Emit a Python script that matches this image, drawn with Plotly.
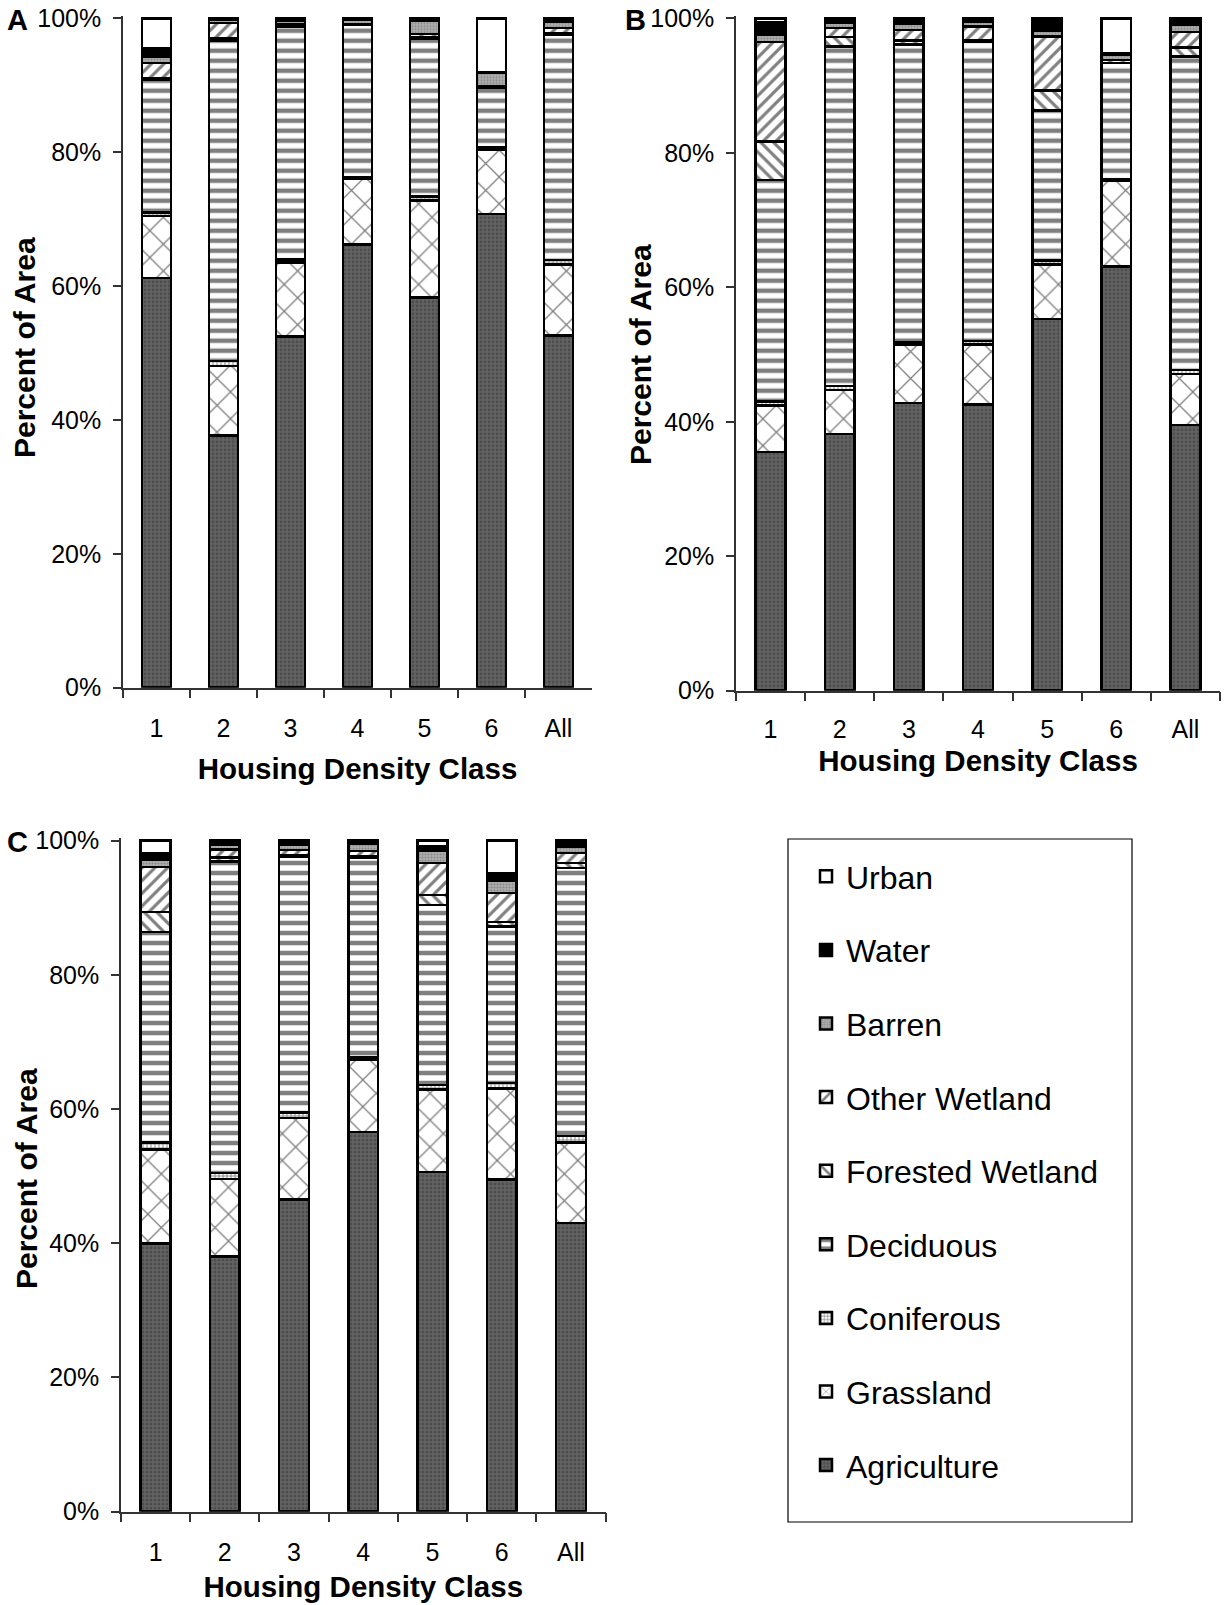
import plotly.graph_objects as go

# Housing density classes on the x axis
classes = ["1", "2", "3", "4", "5", "6", "All"]

# Land-cover series, stacked bottom to top (percent of area)
land_covers = ["Agriculture", "Grassland", "Coniferous", "Deciduous",
               "Forested Wetland", "Other Wetland", "Barren", "Water", "Urban"]

# Panel A
agriculture_a = [61.2, 37.7, 52.5, 66.2, 58.3, 70.8, 52.6]
grassland_a = [9.3, 10.4, 11.0, 9.9, 14.5, 9.6, 10.6]
coniferous_a = [0.5, 0.7, 0.5, 0.2, 0.6, 0.3, 0.7]
deciduous_a = [19.9, 47.8, 34.7, 22.7, 23.6, 9.0, 33.6]
forested_wetland_a = [0.2, 0.4, 0.2, 0.0, 0.2, 0.0, 0.3]
other_wetland_a = [2.2, 2.3, 0.2, 0.1, 0.5, 0.2, 0.8]
barren_a = [0.9, 0.5, 0.5, 0.7, 1.9, 2.0, 0.9]
water_a = [1.4, 0.2, 0.4, 0.2, 0.4, 0.1, 0.3]
urban_a = [4.4, 0.0, 0.0, 0.0, 0.0, 8.0, 0.2]

# Panel B
agriculture_b = [35.5, 38.2, 42.8, 42.6, 55.3, 63.1, 39.5]
grassland_b = [6.9, 6.5, 8.6, 8.9, 8.1, 12.8, 7.6]
coniferous_b = [0.6, 0.6, 0.4, 0.5, 0.6, 0.2, 0.6]
deciduous_b = [33.0, 50.5, 44.3, 44.6, 22.3, 17.3, 46.6]
forested_wetland_b = [5.7, 1.4, 0.6, 0.2, 3.0, 0.0, 1.4]
other_wetland_b = [14.8, 1.4, 1.6, 2.0, 8.0, 0.4, 2.3]
barren_b = [1.1, 0.8, 0.9, 0.7, 0.9, 0.8, 1.0]
water_b = [1.9, 0.4, 0.6, 0.4, 1.4, 0.2, 0.7]
urban_b = [0.5, 0.2, 0.2, 0.1, 0.4, 5.2, 0.3]

# Panel C
agriculture_c = [40.0, 38.0, 46.5, 56.6, 50.6, 49.5, 43.0]
grassland_c = [14.0, 11.6, 12.2, 10.8, 12.3, 13.6, 12.0]
coniferous_c = [1.0, 0.9, 0.8, 0.4, 0.7, 0.8, 1.0]
deciduous_c = [31.4, 46.4, 38.1, 29.6, 26.8, 23.3, 39.9]
forested_wetland_c = [3.0, 0.6, 0.3, 0.3, 1.5, 0.7, 0.8]
other_wetland_c = [6.7, 1.2, 0.7, 0.8, 4.8, 4.3, 1.5]
barren_c = [1.0, 0.7, 0.8, 1.0, 1.8, 1.9, 0.9]
water_c = [1.0, 0.4, 0.4, 0.3, 0.6, 1.0, 0.5]
urban_c = [1.9, 0.2, 0.2, 0.2, 0.9, 4.9, 0.4]

y_ticks = [0, 20, 40, 60, 80, 100]
y_tick_labels = ["0%", "20%", "40%", "60%", "80%", "100%"]

panels = [
    ("A", "", [agriculture_a, grassland_a, coniferous_a, deciduous_a, forested_wetland_a,
               other_wetland_a, barren_a, water_a, urban_a]),
    ("B", "2", [agriculture_b, grassland_b, coniferous_b, deciduous_b, forested_wetland_b,
                other_wetland_b, barren_b, water_b, urban_b]),
    ("C", "3", [agriculture_c, grassland_c, coniferous_c, deciduous_c, forested_wetland_c,
                other_wetland_c, barren_c, water_c, urban_c]),
]

FONT = "Arial, 'Liberation Sans', sans-serif"
W, H = 1224, 1605


def fx(px):
    return px / W


def fy(py):
    return 1 - py / H


# Fill styles in the manner of a monochrome print
fills = {
    "Agriculture": dict(shape=".", fgcolor="#333333", bgcolor="#646464", size=4, solidity=0.45),
    "Grassland": dict(shape="x", fgcolor="#000000", bgcolor="#ffffff", size=19, solidity=0.13),
    "Coniferous": dict(shape="+", fgcolor="#000000", bgcolor="#ffffff", size=4, solidity=0.4),
    "Deciduous": dict(shape="-", fgcolor="#000000", bgcolor="#ffffff", size=10, solidity=0.45),
    "Forested Wetland": dict(shape="\\", fgcolor="#000000", bgcolor="#ffffff", size=9, solidity=0.35),
    "Other Wetland": dict(shape="/", fgcolor="#000000", bgcolor="#ffffff", size=9, solidity=0.35),
    "Barren": dict(shape=".", fgcolor="#606060", bgcolor="#b0b0b0", size=3, solidity=0.4),
    "Water": dict(shape="", fgcolor="#000000", bgcolor="#000000", size=6, solidity=0.5),
    "Urban": dict(shape="", fgcolor="#ffffff", bgcolor="#ffffff", size=6, solidity=0.5),
}
base_colors = {
    "Agriculture": "#646464", "Grassland": "#ffffff", "Coniferous": "#ffffff",
    "Deciduous": "#ffffff", "Forested Wetland": "#ffffff", "Other Wetland": "#ffffff",
    "Barren": "#b0b0b0", "Water": "#000000", "Urban": "#ffffff",
}

fig = go.Figure()

n_covers = len(land_covers)
for letter, suffix, series in panels:
    for i, (name, values) in enumerate(zip(land_covers, series)):
        fig.add_trace(go.Bar(
            x=classes, y=values, name=name,
            xaxis="x" + suffix, yaxis="y" + suffix,
            legendgroup=name, showlegend=(letter == "A"),
            legendrank=n_covers - i,
            marker=dict(color=base_colors[name], pattern=fills[name],
                        line=dict(color="#000000", width=2.5)),
            hovertemplate=name + ": %{y:.1f}%<extra></extra>",
        ))

# Plot-area geometry (pixels) for each panel: x0, x1, y of 100 %, y of 0 %
geom = {
    "": (123, 592, 18.4, 687.7),
    "2": (736, 1220, 18.4, 690.7),
    "3": (121, 605.5, 840.7, 1511.7),
}
label_standoff = {"": 18, "2": 16, "3": 18}
title_standoff = {"": 17, "2": 8, "3": 11}
# Centre (pixels) of each rotated y-axis title
y_title_pos = {"": (25, 348), "2": (640, 355), "3": (26, 1179)}

layout_axes = {}
annotations = []
for suffix, (x0, x1, y100, y0) in geom.items():
    top_extra = 0.4 * (y0 - y100) / 100.0
    layout_axes["xaxis" + suffix] = dict(
        domain=[fx(x0), fx(x1)], anchor="y" + suffix, automargin=False,
        type="category", showline=True, linecolor="#333333", linewidth=1.5,
        ticks="outside", tickson="boundaries", ticklen=9, tickwidth=1.5, tickcolor="#333333",
        tickfont=dict(family=FONT, size=25, color="#000000"),
        ticklabelstandoff=label_standoff[suffix],
        showgrid=False, zeroline=False,
        title=dict(text="<b>Housing Density Class</b>", standoff=title_standoff[suffix],
                   font=dict(family=FONT, size=29.5, color="#000000")),
    )
    layout_axes["yaxis" + suffix] = dict(
        domain=[fy(y0), fy(y100 - top_extra)], anchor="x" + suffix, automargin=False,
        range=[0, 100.4], tickvals=y_ticks, ticktext=y_tick_labels,
        showline=True, linecolor="#333333", linewidth=1.5,
        ticks="outside", ticklen=8, tickwidth=1.5, tickcolor="#333333",
        tickfont=dict(family=FONT, size=25, color="#000000"), ticklabelstandoff=7,
        showgrid=False, zeroline=False,
    )
    tx, ty = y_title_pos[suffix]
    annotations.append(dict(
        text="<b>Percent of Area</b>", textangle=-90,
        x=fx(tx), y=fy(ty), xref="paper", yref="paper",
        xanchor="center", yanchor="middle", showarrow=False,
        font=dict(family=FONT, size=30, color="#000000"),
    ))

# Panel letters
for letter, px, py in [("A", 5, 20), ("B", 623, 20), ("C", 5, 842)]:
    annotations.append(dict(
        text="<b>" + letter + "</b>", x=fx(px), y=fy(py), xref="paper", yref="paper",
        xanchor="left", yanchor="middle", showarrow=False,
        font=dict(family=FONT, size=29, color="#000000"),
    ))

fig.update_layout(
    width=W, height=H,
    margin=dict(l=0, r=0, t=0, b=0, autoexpand=False),
    paper_bgcolor="#ffffff", plot_bgcolor="#ffffff",
    barmode="stack", bargap=0.57,
    font=dict(family=FONT, color="#000000"),
    showlegend=True,
    legend=dict(
        x=fx(806), y=fy(849), xanchor="left", yanchor="top",
        traceorder="grouped", tracegroupgap=29,
        bgcolor="rgba(0,0,0,0)", borderwidth=0,
        font=dict(family=FONT, size=32, color="#000000"),
    ),
    shapes=[dict(type="rect", xref="paper", yref="paper",
                 x0=fx(788), x1=fx(1132), y0=fy(1522), y1=fy(839),
                 line=dict(color="#000000", width=1.2), fillcolor="rgba(0,0,0,0)")],
    annotations=annotations,
    **layout_axes,
)

fig.write_html("out.html")
